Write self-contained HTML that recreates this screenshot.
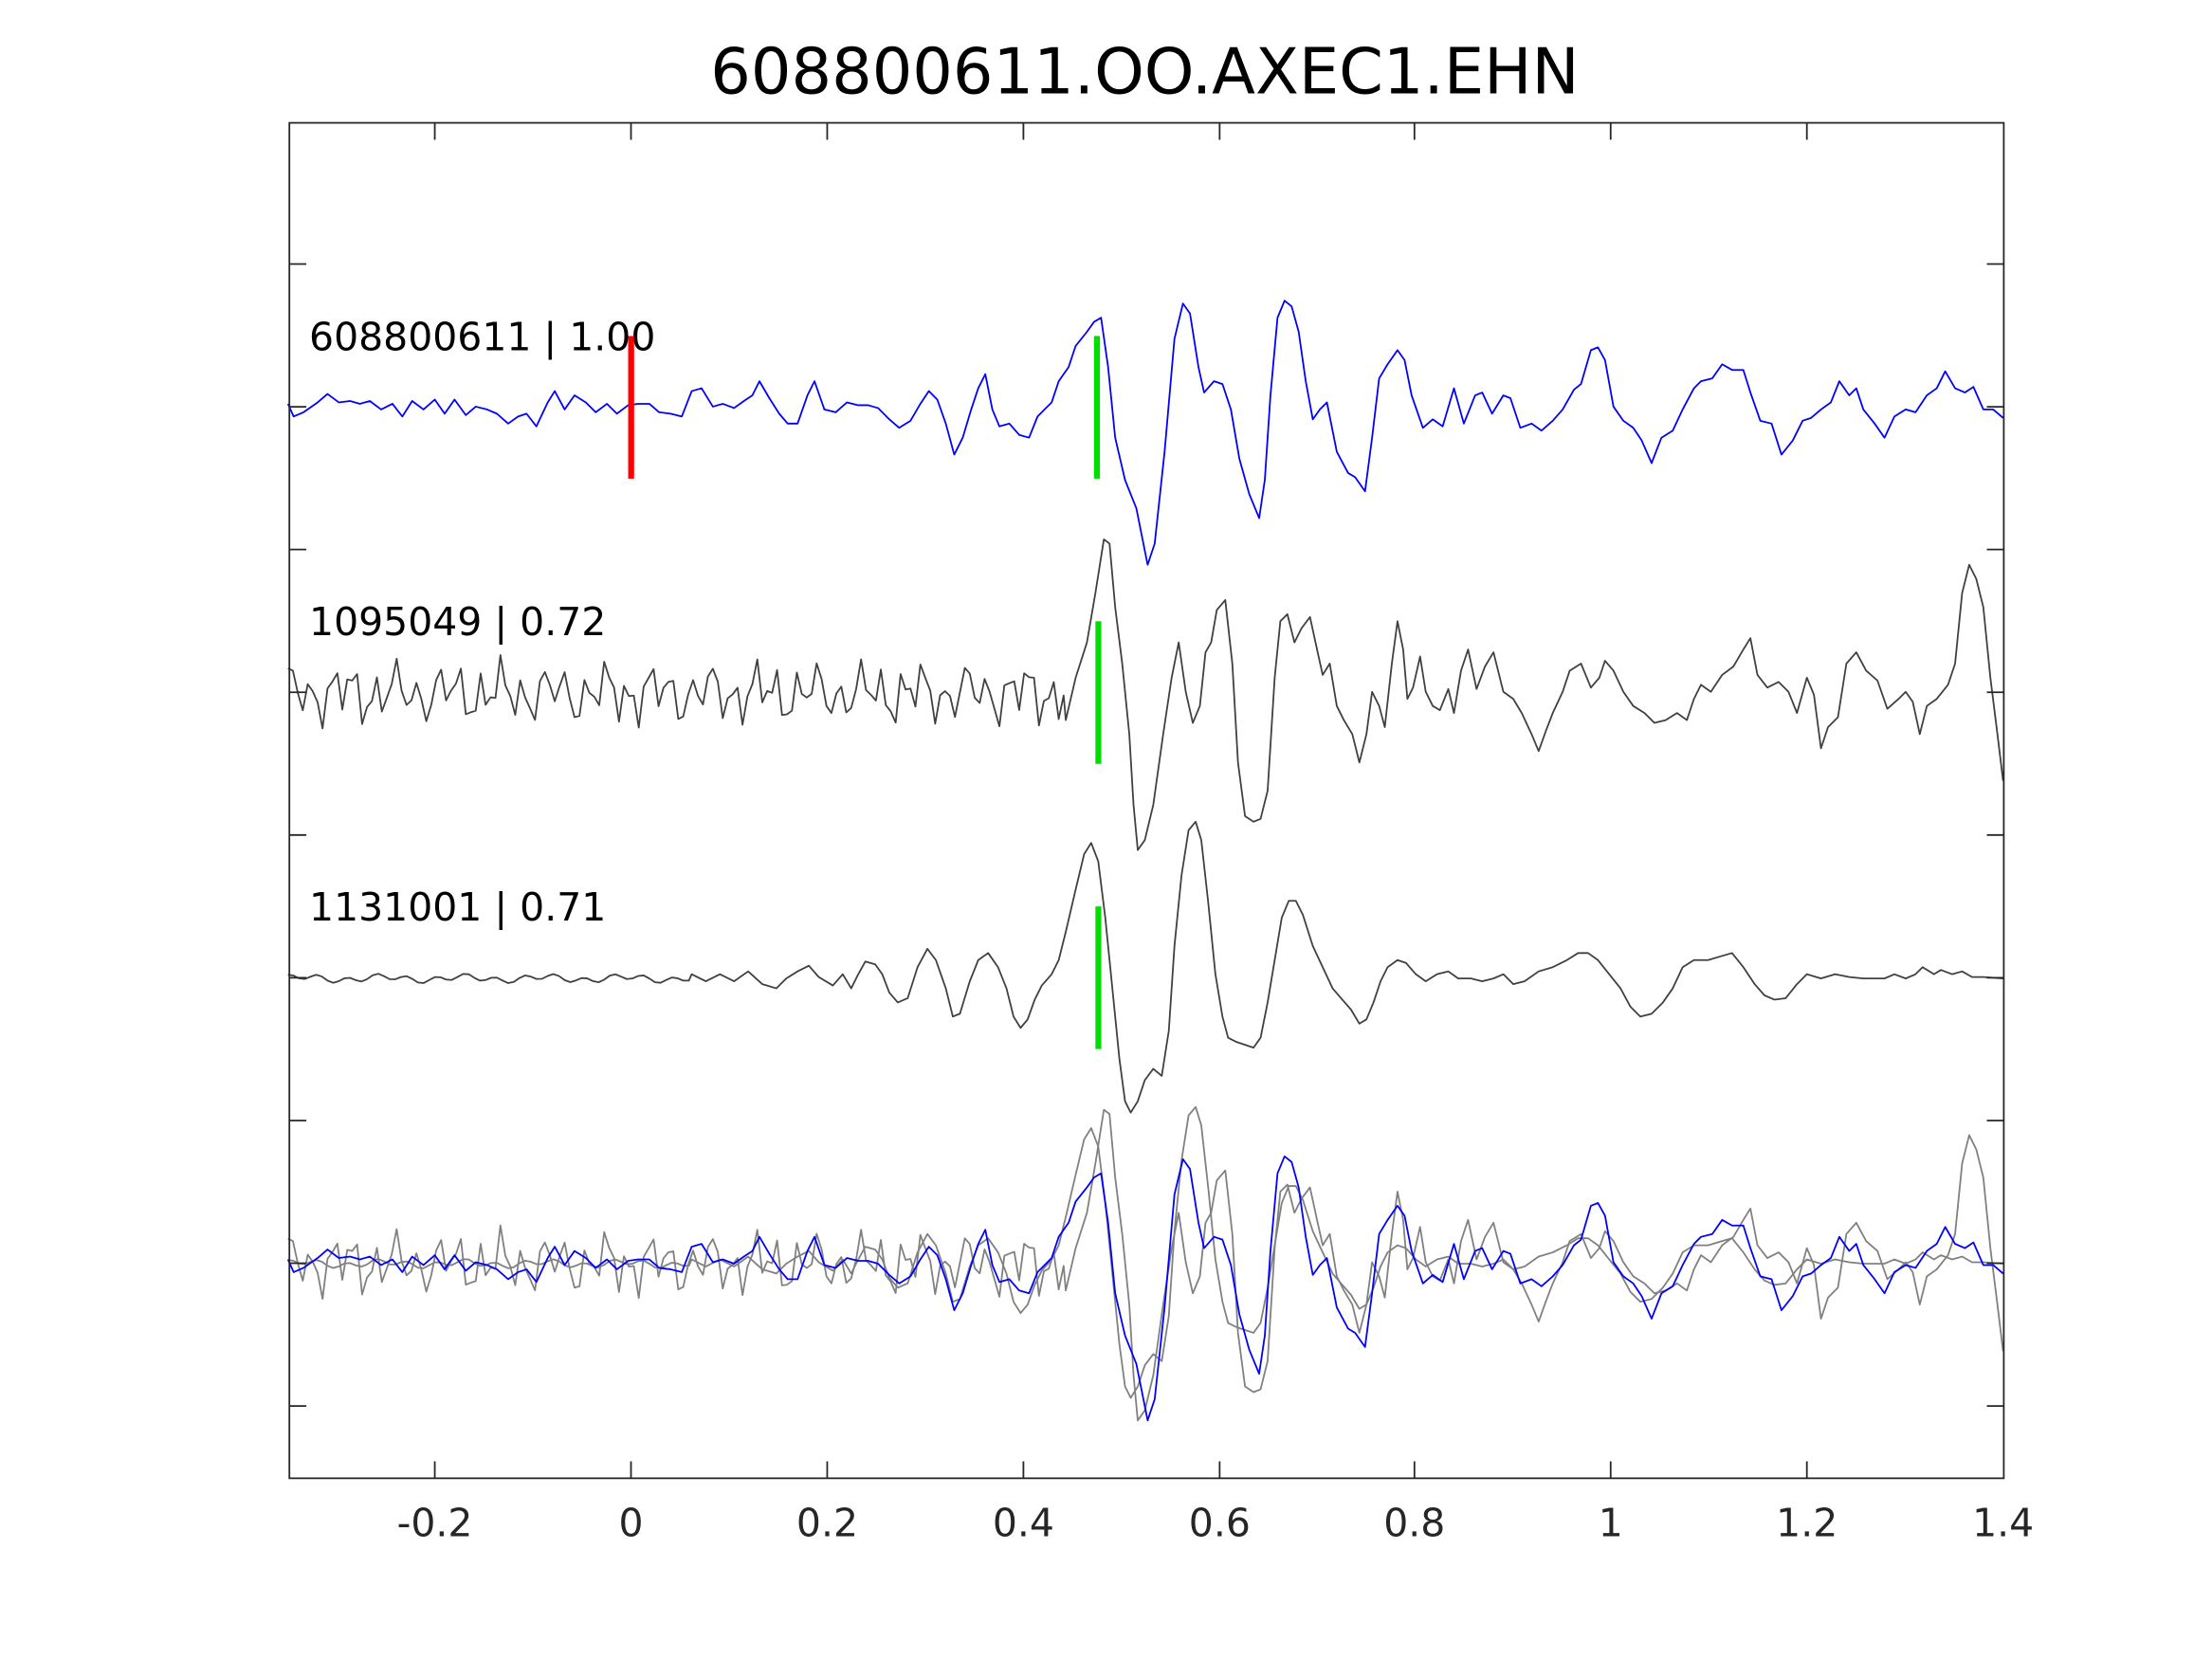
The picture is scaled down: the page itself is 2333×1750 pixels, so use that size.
<!DOCTYPE html>
<html><head><meta charset="utf-8"><style>
html,body{margin:0;padding:0;background:#fff;}
svg{display:block;}
text{font-family:"DejaVu Sans","Liberation Sans",sans-serif;}
</style></head><body>
<svg id="s" width="2333" height="1750" viewBox="0 0 1567 1175" preserveAspectRatio="none" xmlns="http://www.w3.org/2000/svg">
<rect width="1567" height="1175" fill="#fff"/>
<text x="811" y="66" font-size="45" text-anchor="middle" fill="#000">608800611.OO.AXEC1.EHN</text>
<g id="traces" fill="none" stroke-linejoin="round"></g>
<rect x="205" y="87" width="1214.5" height="960" fill="none" stroke="#262626" stroke-width="1.2"/>
<g id="ticks" stroke="#262626" stroke-width="1.2"></g>
<g font-size="27.5" fill="#262626" text-anchor="middle">
<text x="308" y="1088">-0.2</text><text x="447" y="1088">0</text><text x="586" y="1088">0.2</text>
<text x="725" y="1088">0.4</text><text x="864" y="1088">0.6</text><text x="1002" y="1088">0.8</text>
<text x="1141" y="1088">1</text><text x="1280" y="1088">1.2</text><text x="1419" y="1088">1.4</text>
</g>
<g font-size="27.5" fill="#000">
<text x="219" y="248">608800611 | 1.00</text>
<text x="219" y="450">1095049 | 0.72</text>
<text x="219" y="652">1131001 | 0.71</text>
</g>
<g id="marks"></g>
</svg>
<script>
var NS="http://www.w3.org/2000/svg";
function poly(pts,col,w,dy,parent){var p=document.createElementNS(NS,"polyline");
p.setAttribute("points",pts.map(function(q){return q[0]+","+(q[1]+dy)}).join(" "));
p.setAttribute("stroke",col);p.setAttribute("stroke-width",w);parent.appendChild(p);}
function arr(a){var r=[];for(var i=0;i<a.length;i+=2)r.push([a[i],a[i+1]]);return r;}
var t1=arr([204,286,208,295,215,292,225,285,232,279,240,285,248,284,255,286,262,284,270,290,278,286,285,295,292,284,300,290,308,283,315,293,322,283,330,294,337,288,345,290,352,293,360,300,367,295,373,293,380,302,388,285,393,277,400,290,407,280,415,285,422,292,430,286,437,293,445,287,452,286,460,286,467,292,475,293,483,295,490,277,497,275,505,288,512,286,520,289,527,284,533,280,538,270,545,282,552,293,558,300,565,300,572,280,577,270,584,290,592,292,600,285,608,287,615,287,622,289,630,297,637,303,645,298,652,286,658,277,664,283,670,300,676,322,682,310,688,290,693,275,698,265,703,290,708,302,715,300,722,308,729,310,735,295,740,290,
745,285,750,270,757,260,762,245,770,235,775,228,780,225,785,260,790,310,797,340,805,360,813,400,818,385,825,320,832,240,838,215,843,222,849,260,853,278,860,270,866,272,872,290,878,325,885,350,892,367,896,340,900,280,905,225,910,213,915,217,920,235,925,270,930,297,935,290,940,285,947,320,955,335,960,338,967,348,972,310,977,268,983,258,990,248,995,255,1000,280,1008,303,1015,297,1022,302,1030,275,1037,300,1045,280,1050,278,1057,293,1065,280,1070,282,1077,303,1085,300,1092,305,1100,298,1107,290,1115,276,1120,272,1127,248,1132,246,1137,255,1143,288,1150,298,1157,303,1163,312,1170,328,1177,310,1185,305,1192,290,1200,275,1205,270,1213,268,1220,258,1227,262,1235,262,1240,278,1247,298,1255,300,1262,322,1270,312,1277,298,1283,296,1290,290,1297,285,1303,270,1310,280,1315,275,1320,290,1328,300,1335,310,1342,295,1350,290,1357,292,1365,280,1372,275,1378,263,1385,275,1392,278,1398,274,1405,290,1412,290,1419,296]);
var t2=[];
for(var x=204;x<755;x+=3.5){t2.push([x,491+13*Math.sin(x*0.42)+8*Math.sin(x*0.17+1)+7*Math.sin(x*0.93+2)]);}
t2=t2.concat(arr([755,510,762,480,770,455,776,420,782,382,786,385,790,430,795,470,800,520,803,570,806,602,811,595,817,570,824,520,830,480,835,455,840,490,845,512,850,500,854,462,858,455,862,432,868,425,873,470,877,540,882,578,888,582,893,580,898,560,903,480,907,440,912,435,917,455,922,445,928,437,933,460,937,478,942,470,947,500,952,510,958,520,963,540,968,520,972,490,977,500,981,515,986,470,990,440,994,460,997,495,1001,487,1006,465,1010,490,1015,500,1020,503,1026,488,1030,505,1035,475,1040,460,1046,488,1052,472,1058,462,1065,490,1072,495,1078,505,1085,520,1090,532,1095,518,1100,505,1107,490,1112,475,1120,470,1127,487,1133,480,1137,468,1143,475,1150,490,1157,500,1165,505,1172,512,1180,510,1188,505,1195,510,1200,495,1205,485,1212,490,1220,478,1228,472,1235,460,1240,452,1245,478,1252,487,1260,483,1267,490,1273,505,1280,480,1285,492,1290,530,1295,515,1302,508,1308,470,1315,462,1322,475,1330,482,1337,502,1345,495,1350,490,1355,497,1360,520,1365,500,1372,495,1380,485,1385,470,1390,420,1395,400,1400,410,1405,430,1410,480,1415,520,1419,553]));
var t3=[];
for(var x=204;x<490;x+=4){t3.push([x,693+2*Math.sin(x*0.3)+1.5*Math.sin(x*0.11)]);}
t3=t3.concat(arr([490,690,500,695,510,690,520,695,530,688,540,697,550,700,557,693,565,688,573,684,580,692,590,698,597,690,603,700,608,690,613,681,620,683,625,690,630,703,636,710,643,707,650,685,657,672,663,680,670,700,675,720,680,718,687,695,693,680,700,675,707,685,713,700,718,720,723,728,728,722,733,708,738,698,745,690,750,680,755,660,762,630,768,605,773,597,778,610,783,650,788,700,793,750,797,780,801,788,806,780,811,765,817,757,823,762,828,730,832,670,837,620,842,588,847,582,851,595,856,640,861,690,866,720,870,735,876,738,882,740,888,742,893,735,898,710,903,680,908,650,913,638,918,638,923,648,930,670,937,685,944,700,950,707,957,715,963,725,968,722,973,710,978,695,983,685,990,680,996,682,1003,690,1010,695,1018,690,1026,688,1033,693,1042,693,1050,695,1058,693,1065,690,1072,697,1080,695,1090,688,1100,685,1110,680,1118,675,1125,675,1132,680,1140,690,1148,700,1155,713,1162,720,1170,718,1178,710,1185,700,1192,685,1200,680,1210,680,1220,677,1227,675,1235,685,1243,697,1250,705,1257,708,1265,707,1273,697,1280,690,1290,693,1300,690,1310,692,1320,693,1328,693,1335,693,1342,690,1350,693,1357,690,1362,685,1370,690,1375,687,1383,690,1390,688,1397,692,1405,692,1419,693]));
var g=document.getElementById("traces");
poly(t1,"#0000ff",1.2,0,g);
poly(t2,"#404040",1.2,0,g);
poly(t3,"#404040",1.2,0,g);
poly(t2,"#808080",1.2,404,g);
poly(t3,"#808080",1.2,202,g);
poly(t1,"#0000ff",1.2,606,g);
var tk=document.getElementById("ticks");
function ln(a,b,c,d){var l=document.createElementNS(NS,"line");l.setAttribute("x1",a);l.setAttribute("y1",b);l.setAttribute("x2",c);l.setAttribute("y2",d);tk.appendChild(l);}
[308,447,586,725,864,1002,1141,1280].forEach(function(x){ln(x,87,x,99);ln(x,1047,x,1035);});
for(var i=0;i<9;i++){var y=187+i*101.1;ln(205,y,217,y);ln(1419.5,y,1407.5,y);}
var m=document.getElementById("marks");
function bar(x,y1,y2,c){var r=document.createElementNS(NS,"rect");r.setAttribute("x",x-2);r.setAttribute("y",y1);r.setAttribute("width",4.2);r.setAttribute("height",y2-y1);r.setAttribute("fill",c);m.appendChild(r);}
bar(447,238,339,"#ff0000");bar(777,238,339,"#00dd00");bar(778,440,541,"#00dd00");bar(778,642,743,"#00dd00");
</script>
</body></html>
